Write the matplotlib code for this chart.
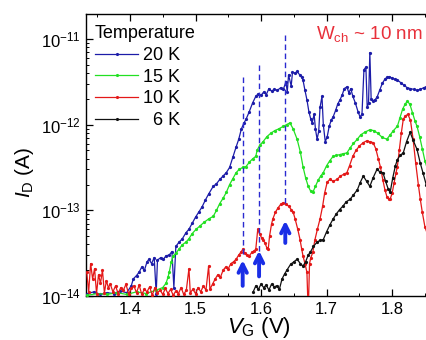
import numpy as np
import matplotlib
matplotlib.use("Agg")
import matplotlib.pyplot as plt
from matplotlib.ticker import MultipleLocator, FixedLocator, LogLocator, NullFormatter

plt.rcParams["font.family"] = ["Liberation Sans", "DejaVu Sans"]
plt.rcParams["mathtext.fontset"] = "custom"
plt.rcParams["mathtext.rm"] = "Liberation Sans"
plt.rcParams["mathtext.it"] = "Liberation Sans:italic"

# ---------------------------------------------------------------------------
# Data: gate voltage (V) and log10 of drain current (A)
# ---------------------------------------------------------------------------
vg_20K = [1.335, 1.345, 1.355, 1.365, 1.375, 1.385, 1.395, 1.402, 1.405, 1.410,
          1.414, 1.418, 1.422, 1.426, 1.429, 1.433, 1.437, 1.440, 1.442, 1.447,
          1.451, 1.455, 1.460, 1.464, 1.467, 1.470, 1.475, 1.480, 1.4855, 1.490,
          1.495, 1.500, 1.505, 1.510, 1.515, 1.520, 1.527, 1.532, 1.537, 1.542,
          1.547, 1.552, 1.557, 1.562, 1.566, 1.570, 1.574, 1.577, 1.582, 1.587,
          1.592, 1.596, 1.600, 1.604, 1.608, 1.612, 1.616, 1.620, 1.625, 1.630,
          1.634, 1.638, 1.640, 1.642, 1.646, 1.648, 1.652, 1.655, 1.659, 1.662,
          1.664, 1.667, 1.670, 1.673, 1.676, 1.678, 1.681, 1.683, 1.6855, 1.688,
          1.690, 1.693, 1.695, 1.698, 1.701, 1.704, 1.707, 1.710, 1.714, 1.717,
          1.7206, 1.724, 1.727, 1.731, 1.734, 1.737, 1.740, 1.744, 1.748, 1.751,
          1.754, 1.757, 1.760, 1.762, 1.764, 1.766, 1.768, 1.771, 1.774, 1.777,
          1.781, 1.785, 1.789, 1.792, 1.796, 1.800, 1.804, 1.808, 1.813, 1.818,
          1.823, 1.828, 1.833, 1.838, 1.843, 1.848, 1.852, 1.856]
lg_20K = [-13.97, -13.95, -13.98, -13.96, -13.97, -13.94, -13.96, -13.88, -13.80, -13.76,
          -13.72, -13.66, -13.70, -13.60, -13.57, -13.62, -13.55, -13.97, -13.58, -13.55,
          -13.57, -13.53, -13.52, -13.48, -13.90, -13.42, -13.37, -13.33, -13.26, -13.22,
          -13.15, -13.08, -13.02, -12.96, -12.88, -12.81, -12.72, -12.69, -12.64, -12.60,
          -12.56, -12.50, -12.38, -12.26, -12.17, -12.05, -11.98, -11.94, -11.85, -11.75,
          -11.67, -11.64, -11.66, -11.62, -11.65, -11.58, -11.61, -11.59, -11.60, -11.57,
          -11.59, -11.50, -11.62, -11.42, -11.55, -11.39, -11.40, -11.38, -11.42, -11.45,
          -11.48, -11.60, -11.71, -11.85, -11.94, -11.98, -11.88, -12.05, -12.17, -12.08,
          -11.80, -11.67, -12.00, -12.20, -12.14, -12.02, -11.95, -11.91, -11.83, -11.76,
          -11.71, -11.65, -11.58, -11.56, -11.63, -11.58, -11.67, -11.75, -11.85, -11.91,
          -11.88, -11.36, -11.33, -11.80, -11.75, -11.16, -11.70, -11.72, -11.71, -11.68,
          -11.60, -11.52, -11.47, -11.45, -11.44, -11.46, -11.47, -11.48, -11.51, -11.54,
          -11.57, -11.58, -11.59, -11.60, -11.59, -11.57, -11.56, -11.55]

vg_15K = [1.335, 1.350, 1.365, 1.380, 1.395, 1.410, 1.425, 1.440, 1.450, 1.455,
          1.458, 1.460, 1.463, 1.466, 1.470, 1.475, 1.480, 1.4855, 1.490, 1.495,
          1.501, 1.507, 1.513, 1.520, 1.527, 1.532, 1.537, 1.542, 1.547, 1.552,
          1.557, 1.562, 1.567, 1.572, 1.577, 1.582, 1.587, 1.592, 1.594, 1.598,
          1.603, 1.609, 1.615, 1.621, 1.627, 1.634, 1.639, 1.644, 1.649, 1.655,
          1.660, 1.664, 1.668, 1.672, 1.676, 1.679, 1.683, 1.687, 1.691, 1.695,
          1.700, 1.705, 1.710, 1.715, 1.720, 1.725, 1.731, 1.736, 1.741, 1.747,
          1.752, 1.758, 1.766, 1.772, 1.778, 1.785, 1.792, 1.797, 1.802, 1.808,
          1.812, 1.816, 1.820, 1.823, 1.827, 1.831, 1.835, 1.838, 1.842, 1.846,
          1.850, 1.854, 1.858]
lg_15K = [-13.99, -13.97, -13.98, -13.96, -13.98, -13.95, -13.97, -13.93, -13.90, -13.85,
          -13.78, -13.72, -13.60, -13.53, -13.50, -13.45, -13.40, -13.37, -13.33, -13.27,
          -13.22, -13.18, -13.14, -13.10, -13.07, -13.00, -12.92, -12.86, -12.79, -12.70,
          -12.63, -12.56, -12.52, -12.50, -12.49, -12.44, -12.40, -12.37, -12.30, -12.24,
          -12.20, -12.14, -12.10, -12.07, -12.05, -12.02, -12.00, -11.98, -12.05, -12.17,
          -12.32, -12.49, -12.62, -12.72, -12.78, -12.79, -12.72, -12.65, -12.60, -12.56,
          -12.48, -12.42, -12.37, -12.36, -12.35, -12.34, -12.33, -12.27, -12.22, -12.17,
          -12.12, -12.09, -12.06, -12.07, -12.10, -12.15, -12.17, -12.12, -12.07, -12.02,
          -11.92, -11.82, -11.76, -11.73, -11.76, -11.86, -11.96, -12.02, -12.14, -12.28,
          -12.42, -12.52, -12.58]

vg_10K = [1.334, 1.337, 1.340, 1.343, 1.346, 1.349, 1.352, 1.355, 1.358, 1.361,
          1.364, 1.367, 1.370, 1.374, 1.378, 1.382, 1.386, 1.390, 1.394, 1.398,
          1.402, 1.406, 1.410, 1.414, 1.418, 1.422, 1.426, 1.430, 1.434, 1.438,
          1.442, 1.446, 1.450, 1.454, 1.458, 1.462, 1.466, 1.470, 1.474, 1.478,
          1.482, 1.486, 1.490, 1.492, 1.496, 1.500, 1.504, 1.508, 1.512, 1.516,
          1.520, 1.522, 1.526, 1.530, 1.534, 1.538, 1.542, 1.546, 1.550, 1.554,
          1.558, 1.562, 1.566, 1.570, 1.5725, 1.575, 1.578, 1.582, 1.586, 1.590,
          1.592, 1.595, 1.598, 1.601, 1.603, 1.606, 1.609, 1.611, 1.613, 1.616,
          1.618, 1.622, 1.626, 1.630, 1.634, 1.638, 1.642, 1.646, 1.649, 1.652,
          1.656, 1.6595, 1.662, 1.664, 1.667, 1.670, 1.672, 1.674, 1.676, 1.679,
          1.682, 1.686, 1.690, 1.694, 1.697, 1.701, 1.705, 1.710, 1.716, 1.721,
          1.726, 1.731, 1.735, 1.740, 1.745, 1.750, 1.756, 1.761, 1.766, 1.771,
          1.775, 1.779, 1.782, 1.786, 1.789, 1.792, 1.795, 1.797, 1.800, 1.803,
          1.806, 1.808, 1.811, 1.814, 1.817, 1.820, 1.824, 1.828, 1.832, 1.836,
          1.840, 1.843, 1.846, 1.850, 1.854, 1.858]
lg_10K = [-13.72, -13.95, -13.62, -13.80, -13.68, -13.97, -13.75, -13.85, -13.70, -13.96,
          -13.82, -13.90, -13.86, -13.95, -13.88, -13.97, -13.90, -13.93, -13.86, -13.98,
          -13.91, -13.88, -13.96, -13.87, -13.98, -13.92, -13.95, -13.89, -13.99, -13.90,
          -13.96, -13.93, -13.98, -13.91, -13.97, -13.92, -13.99, -13.94, -13.97, -13.90,
          -13.98, -13.93, -13.68, -13.96, -13.92, -13.97, -13.90, -13.95, -13.88, -13.93,
          -13.65, -13.92, -13.86, -13.80, -13.75, -13.78, -13.70, -13.66, -13.68, -13.62,
          -13.60, -13.57, -13.52, -13.48, -13.45, -13.50, -13.52, -13.53, -13.49, -13.47,
          -13.45, -13.22, -13.28, -13.32, -13.34, -13.38, -13.44, -13.45, -13.30, -13.16,
          -13.10, -13.02, -12.97, -12.93, -12.91, -12.93, -12.95, -12.99, -13.02, -13.10,
          -13.22, -13.34, -13.45, -13.53, -13.62, -13.72, -14.20, -13.62, -13.55, -13.49,
          -13.35, -13.22, -13.10, -12.95, -12.80, -12.67, -12.64, -12.66, -12.64, -12.60,
          -12.58, -12.56, -12.48, -12.37, -12.30, -12.25, -12.21, -12.19, -12.20, -12.21,
          -12.28, -12.40, -12.49, -12.65, -12.76, -12.84, -12.87, -12.87, -12.80, -12.68,
          -12.56, -12.49, -12.30, -12.10, -11.94, -11.90, -11.88, -11.95, -12.17, -12.45,
          -12.70, -12.87, -13.02, -13.19, -13.28, -13.32]

vg_6K = [1.588, 1.592, 1.596, 1.600, 1.604, 1.608, 1.612, 1.616, 1.620, 1.624,
         1.628, 1.632, 1.636, 1.640, 1.645, 1.650, 1.655, 1.660, 1.664, 1.668,
         1.672, 1.675, 1.680, 1.6855, 1.690, 1.695, 1.700, 1.705, 1.710, 1.715,
         1.720, 1.725, 1.730, 1.736, 1.741, 1.747, 1.751, 1.756, 1.761, 1.766,
         1.771, 1.777, 1.781, 1.786, 1.790, 1.794, 1.797, 1.801, 1.805, 1.808,
         1.812, 1.817, 1.822, 1.8275, 1.832, 1.838, 1.843, 1.847, 1.852, 1.856]
lg_6K = [-13.95, -13.88, -13.92, -13.86, -13.90, -13.87, -13.93, -13.86, -13.89, -13.88,
         -13.92, -13.80, -13.74, -13.69, -13.63, -13.60, -13.57, -13.62, -13.65, -13.60,
         -13.52, -13.49, -13.42, -13.37, -13.35, -13.34, -13.25, -13.17, -13.10, -13.04,
         -12.99, -12.95, -12.90, -12.87, -12.82, -12.76, -12.68, -12.60, -12.66, -12.72,
         -12.62, -12.52, -12.55, -12.56, -12.66, -12.75, -12.79, -12.62, -12.48, -12.41,
         -12.36, -12.33, -12.20, -12.09, -12.18, -12.29, -12.45, -12.56, -12.70, -12.62]

series_labels = ["20 K", "15 K", "10 K", "  6 K"]
series_colors = ["#1c1ca8", "#22e022", "#e41818", "#111111"]

# peak markers: dashed guide (top, bottom) and arrow (tail, head), log10 units
peak_vg = [1.572, 1.597, 1.637]
dash_top = [-11.45, -11.30, -10.95]
dash_bot = [-13.53, -13.78, -12.93]
arrow_tail = [-13.88, -13.77, -13.38]
arrow_head = [-13.58, -13.47, -13.12]

y_decades = [1e-14, 1e-13, 1e-12, 1e-11]

# ---------------------------------------------------------------------------
# Plot
# ---------------------------------------------------------------------------
fig = plt.figure(figsize=(4.26, 3.40), dpi=100)
ax = fig.add_axes([0.202, 0.129, 0.81, 0.83])

curves = [(vg_20K, lg_20K), (vg_15K, lg_15K), (vg_10K, lg_10K), (vg_6K, lg_6K)]
handles = [None] * 4
for i in [3, 2, 1, 0]:
    v, lg = curves[i]
    h, = ax.plot(v, 10.0 ** np.array(lg), "-", marker=".", ms=2.6, lw=0.9,
                 color=series_colors[i], label=series_labels[i], zorder=3 + i)
    handles[i] = h

for x, t, b in zip(peak_vg, dash_top, dash_bot):
    ax.plot([x, x], [10 ** t, 10 ** b], color="#2a2ad0", lw=1.0,
            dashes=(4, 2.5), zorder=8)
for x, t, h in zip(peak_vg, arrow_tail, arrow_head):
    ax.annotate("", xy=(x, 10 ** h), xytext=(x, 10 ** t),
                arrowprops=dict(arrowstyle="->", color="#1a2ee6", lw=2.8,
                                mutation_scale=15, shrinkA=0, shrinkB=0),
                zorder=9)

ax.set_yscale("log")
ax.set_xlim(1.333, 1.8595)
ax.set_ylim(1e-14, 10 ** -10.71)

ax.xaxis.set_major_locator(MultipleLocator(0.1))
ax.xaxis.set_minor_locator(MultipleLocator(0.05))
ax.yaxis.set_major_locator(FixedLocator(y_decades))
ax.yaxis.set_minor_locator(LogLocator(base=10, subs=np.arange(2, 10), numticks=20))
ax.yaxis.set_minor_formatter(NullFormatter())
ax.tick_params(which="both", direction="in", top=True, right=False, labelsize=12)
ax.tick_params(axis="x", pad=4)
ax.tick_params(which="major", length=5, width=0.9)
ax.tick_params(which="minor", length=2.5, width=0.7)
for sp in ax.spines.values():
    sp.set_linewidth(1.0)

ax.set_xlabel("$V_\\mathrm{G}$ (V)", fontsize=16, labelpad=-1)
ax.set_ylabel("$I_\\mathrm{D}$ (A)", fontsize=15)
ax.yaxis.set_label_coords(-0.145, 0.44)

leg = ax.legend(handles=handles, title="Temperature", loc="upper left",
                bbox_to_anchor=(0.026, 0.96), frameon=False, fontsize=13,
                title_fontsize=13, handlelength=2.4, handletextpad=0.25,
                labelspacing=0.26, borderaxespad=0, borderpad=0,
                alignment="left")
for lh in leg.legend_handles:
    lh.set_markersize(2.5)

ax.text(0.975, 0.93, "W$_\\mathrm{ch}$ ~ 10 nm", transform=ax.transAxes,
        color="#e8303a", fontsize=13.5, ha="right", va="center")

fig.savefig("out.png", dpi=100)
